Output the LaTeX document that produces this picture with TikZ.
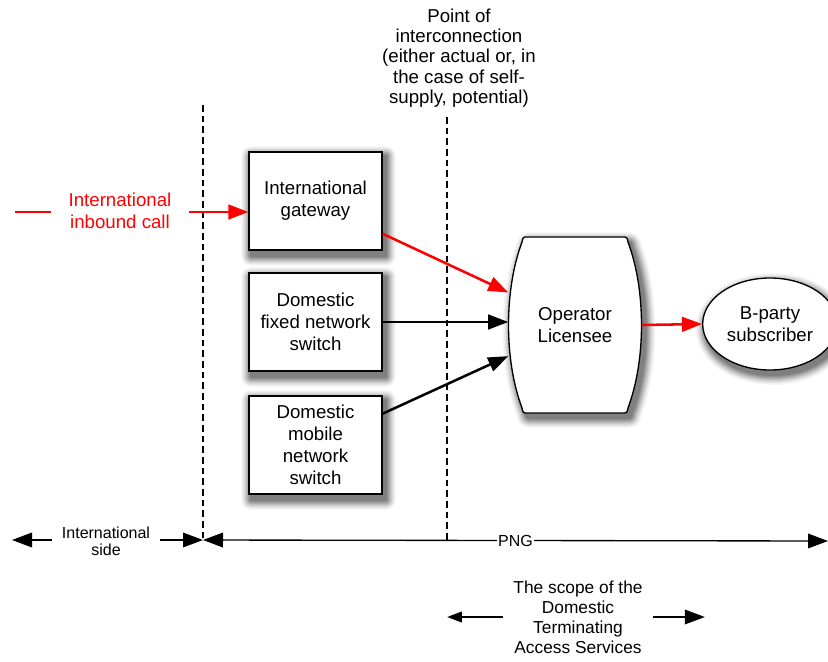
\documentclass[tikz,border=0pt]{standalone}
\usepackage{fontspec}
\setmainfont{Liberation Sans}
\usetikzlibrary{shapes,arrows.meta,positioning,calc,backgrounds}

% weicher Schatten aus deckenden Grautoenen
\newcommand{\softshade}[1]{%
	\foreach \s/\c in {10/3,9/6,8/10,7/15,6/20,5/26,4/32,3/38,2/44,1/50}{%
		\path[draw=black!\c,fill=black!\c,line width=\s*1.5pt,line join=round] #1;}}

\begin{document}
\begin{tikzpicture}[x=0.75pt,y=-0.75pt,>={Triangle[length=15pt,width=11pt]},
	box/.style={draw,rectangle,line width=1pt,fill=white,
		minimum width=99.75pt,minimum height=73.5pt,inner sep=0pt,align=center},
	txt/.style={align=center,font=\fontsize{14}{16.5}\selectfont},
	small/.style={align=center,font=\fontsize{12}{12.75}\selectfont},
	arr/.style={line width=1pt},
	link/.style={->,line width=1.9pt},
	divider/.style={line width=0.8pt,dash pattern=on 5pt off 3pt}]

	\useasboundingbox (0,0) rectangle (828,661);

	% Grenzlinien
	% -----------
	\coordinate (intltop) at (203,105);
	\coordinate (intlbot) at (203,540);
	\coordinate (poitop) at (447,117);
	\coordinate (poibot) at (447,540);
	\draw[divider] (intltop) -- (intlbot);
	\draw[divider] (poitop) -- (poibot);

	\node[align=center,font=\fontsize{14}{15.2}\selectfont] (poi) at (459,58) {Point of\\interconnection\\(either actual or, in\\the case of self-\\supply, potential)};

	% Vermittlungsstellen
	% -------------------
	\node[box,txt] (gateway) at (315.5,201) {International\\gateway};
	\node[box,txt] (fixed) at (315.5,322) {Domestic\\fixed network\\switch};
	\node[box,txt] (mobile) at (315.5,445) {Domestic\\mobile\\network\\switch};

	% Betreiber (Tonnenform, Umriss von Hand)
	\def\oppath{(528,237) -- (622,237) .. controls (627,237) .. (628,242)
		.. controls (646,290) and (646,360) .. (628,408)
		.. controls (627,413) .. (622,413) -- (528,413)
		.. controls (523,413) .. (522,408)
		.. controls (504,360) and (504,290) .. (522,242)
		.. controls (523,237) .. (528,237) -- cycle}
	\draw[line width=1pt,fill=white] \oppath;
	\node[txt,minimum width=99.75pt,minimum height=132pt,inner sep=0pt] (operator) at (575,325) {Operator\\Licensee};

	\node[draw,ellipse,line width=1pt,fill=white,txt,minimum width=101pt,minimum height=69pt]
		(bparty) at (770,324) {B-party\\subscriber};

	% Schatten hinter den Elementen
	\begin{scope}[on background layer]
		\foreach \n in {gateway,fixed,mobile}
			\softshade{($(\n.north west)+(3,5)$) rectangle ($(\n.south east)+(3,5)$)};
		\begin{scope}[shift={(4,5)}]
			\softshade{\oppath};
		\end{scope}
		\softshade{($(bparty.center)+(3,5)$) ellipse [x radius=50.5pt,y radius=34.5pt]};
	\end{scope}

	% eingehender Ruf
	\coordinate (callin) at (15,212);
	\node[txt,text=red,inner xsep=12.75pt] (call) at (120,211) {International\\inbound call};
	\draw[red,line width=1.9pt] (callin) -- (callin -| call.west);
	\draw[link,red] (call.east |- callin) -- (callin -| gateway.west);

	% Verbindungen zum Betreiber
	\draw[link,red] (gateway.-26) -- (operator.154);
	\draw[link] (fixed.east) -- (fixed.east -| operator.west);
	\draw[link] (mobile.25) -- (operator.205);
	\draw[link,red] (operator.east) -- (bparty.west);

	% Bereiche unten
	% --------------
	\node[small,inner xsep=7.5pt] (intlside) at (106,541) {International\\side};
	\draw[->,arr] (intlside.west |- intlbot) -- (12,540);
	\draw[->,arr] (intlside.east |- intlbot) -- (intlbot);

	\coordinate (pngend) at (828,541);
	\draw[<->,arr] (intlbot) -- node[small,fill=white,inner sep=1pt] (png) {PNG} (pngend);

	\node[align=center,font=\fontsize{13}{15}\selectfont,inner xsep=7.5pt] (scope) at (578,617)
		{The scope of the\\Domestic\\Terminating\\Access Services};
	\draw[-{Triangle[length=11pt,width=8pt]},arr] (scope.west) -- ++(-56,0);
	\draw[->,arr] (scope.east) -- ++(52,0);

\end{tikzpicture}
\end{document}
